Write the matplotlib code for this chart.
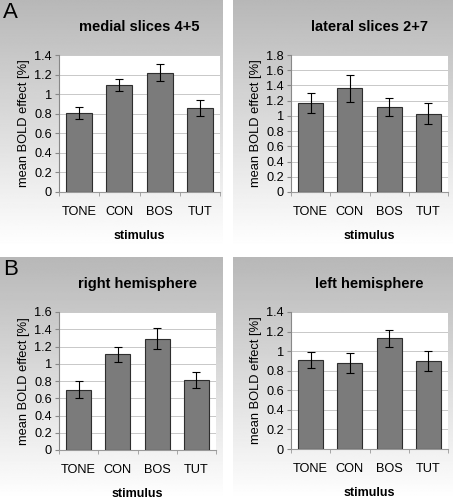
import numpy as np
import matplotlib
matplotlib.use("Agg")
from matplotlib import pyplot as plt

plt.rcParams['font.family'] = ['Liberation Sans', 'DejaVu Sans']

# data
stimuli = ["TONE", "CON", "BOS", "TUT"]
titles = ["medial slices 4+5", "lateral slices 2+7", "right hemisphere", "left hemisphere"]
medial_mean = [0.81, 1.09, 1.22, 0.86]
medial_err = [0.06, 0.06, 0.09, 0.08]
lateral_mean = [1.17, 1.36, 1.12, 1.03]
lateral_err = [0.13, 0.18, 0.12, 0.14]
right_mean = [0.70, 1.11, 1.29, 0.81]
right_err = [0.10, 0.09, 0.12, 0.09]
left_mean = [0.91, 0.88, 1.13, 0.90]
left_err = [0.085, 0.105, 0.085, 0.105]
ymax = [1.4, 1.8, 1.6, 1.4]
means = [medial_mean, lateral_mean, right_mean, left_mean]
errs = [medial_err, lateral_err, right_err, left_err]
letters = ["A", None, "B", None]

W, H = 453, 499
fig = plt.figure(figsize=(W / 100, H / 100), dpi=100)


def box(x0, y0, x1, y1):
    # pixel box (top-down) -> figure fraction rect
    return [x0 / W, 1 - y1 / H, (x1 - x0) / W, (y1 - y0) / H]


bg_boxes = [(0, 0, 223, 247), (233, 0, 453, 247), (0, 257, 223, 499), (233, 257, 453, 499)]
plot_boxes = [(59, 55, 220, 192), (291, 55, 448, 192), (59, 312, 216, 450), (291, 312, 448, 449)]

grad = np.linspace(0.72, 1.0, 256).reshape(-1, 1)

for i in range(4):
    bx = fig.add_axes(box(*bg_boxes[i]))
    bx.imshow(grad, aspect="auto", cmap="gray", vmin=0, vmax=1,
              extent=[0, 1, 0, 1], origin="upper")
    bx.axis('off')

    ax = fig.add_axes(box(*plot_boxes[i]))
    ax.set_facecolor("white")
    x = np.arange(len(stimuli))
    ax.bar(x, means[i], width=0.64, color="#7b7b7b", edgecolor="#2e2e2e",
           linewidth=0.8, zorder=3)
    ax.errorbar(x, means[i], yerr=errs[i], fmt="none", ecolor="black",
                elinewidth=0.8, capsize=3, capthick=0.8, zorder=4)
    ax.set_xlim(-0.5, 3.5)
    ax.set_ylim(0, ymax[i])
    yt = np.arange(0, ymax[i] + 0.01, 0.2)
    ax.set_yticks(yt)
    ax.set_yticklabels(["%g" % round(v, 1) for v in yt], fontsize=9.2)
    ax.yaxis.grid(True, color="#c8c8c8", linewidth=0.7, zorder=0)
    ax.set_xticks(x)
    ax.set_xticklabels(stimuli, fontsize=9.2)
    ax.tick_params(axis='x', length=0, pad=10)
    ax.tick_params(axis='y', length=3, color="#888888", pad=2)
    ax.set_xticks(np.arange(-0.5, 4, 1), minor=True)
    ax.tick_params(axis='x', which='minor', length=3, color="#999999")
    for s in ["top", "right"]:
        ax.spines[s].set_visible(False)
    ax.spines["left"].set_color("#888888")
    ax.spines["bottom"].set_color("#999999")
    ax.set_xlabel("stimulus", fontsize=9, fontweight="bold", labelpad=9)
    ax.set_ylabel("mean BOLD effect [%]", fontsize=9.3, labelpad=3)
    ax.set_title(titles[i], fontsize=10.5, fontweight="bold", pad=17)
    if letters[i]:
        bx0, by0 = bg_boxes[i][0], bg_boxes[i][1]
        fig.text((bx0 + 3) / W, 1 - (by0 + 2) / H, letters[i], fontsize=16,
                 ha="left", va="top")

fig.savefig("out.png", dpi=100)
